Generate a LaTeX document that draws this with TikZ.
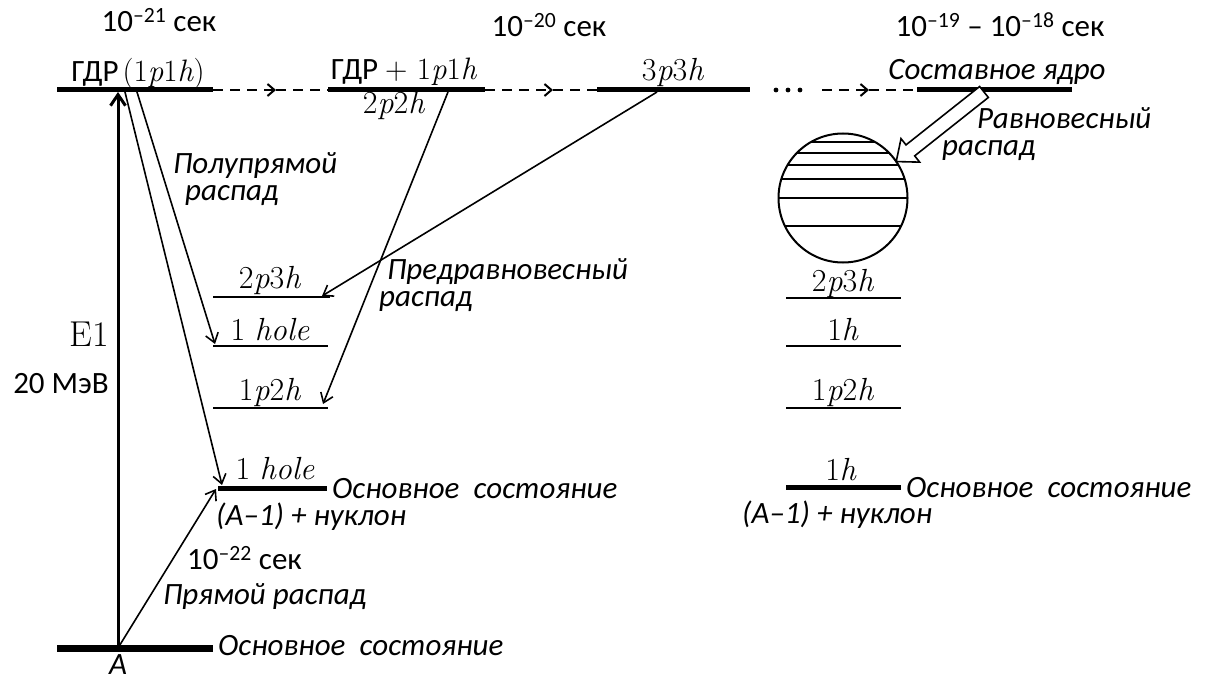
\documentclass[tikz,border=0pt]{standalone}
\usepackage{fontspec}
\setmainfont{Carlito}
\newfontfamily\lmrom{Latin Modern Roman}
\newcommand{\lv}[1]{{\lmrom #1}}
\usetikzlibrary{arrows.meta,calc}
\begin{document}
\begin{tikzpicture}[x=1pt,y=-1pt,
  bar/.style={line width=5pt},
  lvl/.style={line width=1.8pt},
  gnd/.style={line width=7pt},
  arr/.style={line width=1.6pt,-{Straight Barb[length=9pt,width=13pt,line width=1.6pt]}},
  dsh/.style={line width=2pt,dash pattern=on 10pt off 7pt},
  dsharr/.style={dsh,-{Straight Barb[length=7pt,width=12pt,line width=2pt]}},
  txt/.style={inner sep=0pt,font=\fontsize{31}{33}\selectfont},
  itx/.style={inner sep=0pt,font=\fontsize{31}{33}\selectfont\itshape},
  itx2/.style={inner sep=0pt,font=\fontsize{31}{27.5}\selectfont\itshape,align=left},
  mth/.style={inner sep=0pt,font=\fontsize{32}{34}\selectfont\lmrom},
]
\useasboundingbox (0,0) rectangle (1208,682);

% ---- top level bars ----
\coordinate (g1a) at (57,90);  \coordinate (g1b) at (213,90);
\coordinate (g2a) at (328,90); \coordinate (g2b) at (485,90);
\coordinate (g3a) at (597,90); \coordinate (g3b) at (750,90);
\coordinate (g4a) at (917,90); \coordinate (g4b) at (1072,90);
\coordinate (m1) at (276,90);
\coordinate (m2) at (553,90);
\coordinate (d3) at (822,90);
\coordinate (m3) at (869,90);
\draw[bar] (g1a) -- (g1b);
\draw[bar] (g2a) -- (g2b);
\draw[bar] (g3a) -- (g3b);
\draw[bar] (g4a) -- (g4b);
\draw[dsharr] (g1b) -- (m1);
\draw[dsh] (m1) -- (g2a);
\draw[dsharr] (g2b) -- (m2);
\draw[dsh] (m2) -- (g3a);
\foreach \x in {776,788,800} \fill (\x,90) circle (2.4);
\draw[dsharr] (d3) -- (m3);
\draw[dsh] (m3) -- (g4a);

% ---- time labels ----
\node[txt] (t21) at (159,20) {10\textsuperscript{–21} сек};
\node[txt] (t20) at (549,25) {10\textsuperscript{–20} сек};
\node[txt] (t19) at (1000,25) {10\textsuperscript{–19} – 10\textsuperscript{–18} сек};

% ---- top labels ----
\node[txt] (lgdr) at (138,74) {ГДР\hspace{4pt}\lv{(1\textit{p}1\textit{h})}};
\node[txt] (lgdr2) at (404,72) {ГДР \lv{+ 1\textit{p}1\textit{h}}};
\node[mth] (l2p2h) at (394,106) {2\textit{p}2\textit{h}};
\node[mth] (l3p3h) at (673,73) {3\textit{p}3\textit{h}};
\node[itx] (lcomp) at (997,72) {Составное ядро};

% ---- ground state A ----
\coordinate (Aa) at (57,648); \coordinate (Ab) at (213,648);
\coordinate (A0) at (118,648);
\draw[gnd] (Aa) -- (Ab);
\node[itx] (lA) at (118,665) {A};
\node[itx,anchor=west] (lgsA) at (218,646) {Основное\ \ состояние};

% ---- E1 arrow ----
\coordinate (g1x) at (118,92);
\draw[line width=3pt,-{Straight Barb[length=11pt,width=15pt,line width=3pt]}] (A0) -- (g1x);
\node[inner sep=0pt,font=\fontsize{36}{38}\selectfont\lmrom,anchor=east] (lE1) at (109,334) {E1};
\node[txt,anchor=east] (lmev) at (109,384) {20 МэВ};

% ---- left column levels ----
\coordinate (a1) at (213,297); \coordinate (a2) at (330,297);
\coordinate (b1) at (213,346); \coordinate (b2) at (328,346);
\coordinate (c1) at (213,408); \coordinate (c2) at (328,408);
\coordinate (e1) at (218,488); \coordinate (e2) at (327,488);
\draw[lvl] (a1) -- (a2);
\draw[lvl] (b1) -- (b2);
\draw[lvl] (c1) -- (c2);
\draw[bar] (e1) -- (e2);
\node[mth] (la) at (270,280) {2\textit{p}3\textit{h}};
\node[mth] (lb) at (270,330) {1 \textit{hole}};
\node[mth] (lc) at (270,392) {1\textit{p}2\textit{h}};
\node[mth] (le) at (275,469) {1 \textit{hole}};
\node[itx,anchor=west] (lgsB) at (332,489) {Основное\ \ состояние};
\node[itx,anchor=west] (lnucB) at (216,517) {(A–1) + нуклон};

% ---- decay arrows ----
\coordinate (s1) at (125,92);
\coordinate (s2) at (137,92);
\coordinate (s3) at (448,92);
\coordinate (s4) at (657,92);
\coordinate (t1) at (222,485);
\coordinate (t2) at (215,344);
\coordinate (t3) at (323,404);
\coordinate (t4) at (322,296);
\coordinate (t5) at (216,489);
\draw[arr] (s1) -- (t1);
\draw[arr] (s2) -- (t2);
\draw[arr] (s3) -- (t3);
\draw[arr] (s4) -- (t4);
\draw[arr] (A0) -- (t5);

\node[itx2,anchor=north west] (lsd) at (173,152) {Полупрямой\\\hspace*{12pt}распад};
\node[itx2,anchor=north west] (lpe) at (379,258) {\hspace*{8pt}Предравновесный\\распад};
\node[txt,anchor=west] (t22) at (187,558) {10\textsuperscript{–22} сек};
\node[itx,anchor=west] (ldir) at (163,597) {Прямой распад};

% ---- compound nucleus ----
\node[circle,draw,line width=2pt,minimum size=129pt,inner sep=0pt] (cn) at (843,198) {};
\begin{scope}
  \clip (843,198) circle (64.5);
  \foreach \y in {142,153,165,179,198,226} \draw[line width=1.6pt] (770,\y) -- (920,\y);
\end{scope}
\begin{scope}[shift={(984,92)},rotate=218.4]
  \draw[line width=1.6pt,fill=white] (0,-7) -- (94,-7) -- (94,-15) -- (112,0) -- (94,15) -- (94,7) -- (0,7) -- cycle;
\end{scope}
\node[itx2,anchor=north west] (leq) at (942,107) {\hspace*{35pt}Равновесный\\распад};

% ---- right column levels ----
\coordinate (p1) at (786,298); \coordinate (p2) at (901,298);
\coordinate (q1) at (786,346); \coordinate (q2) at (901,346);
\coordinate (r1) at (786,408); \coordinate (r2) at (901,408);
\coordinate (u1) at (786,487); \coordinate (u2) at (901,487);
\draw[lvl] (p1) -- (p2);
\draw[lvl] (q1) -- (q2);
\draw[lvl] (r1) -- (r2);
\draw[bar] (u1) -- (u2);
\node[mth] (lp) at (843,283) {2\textit{p}3\textit{h}};
\node[mth] (lq) at (843,330) {1\textit{h}};
\node[mth] (lr) at (843,392) {1\textit{p}2\textit{h}};
\node[mth] (lu) at (841,470) {1\textit{h}};
\node[itx,anchor=west] (lgsC) at (906,488) {Основное\ \ состояние};
\node[itx,anchor=west] (lnucC) at (742,515) {(A–1) + нуклон};
\end{tikzpicture}
\end{document}
